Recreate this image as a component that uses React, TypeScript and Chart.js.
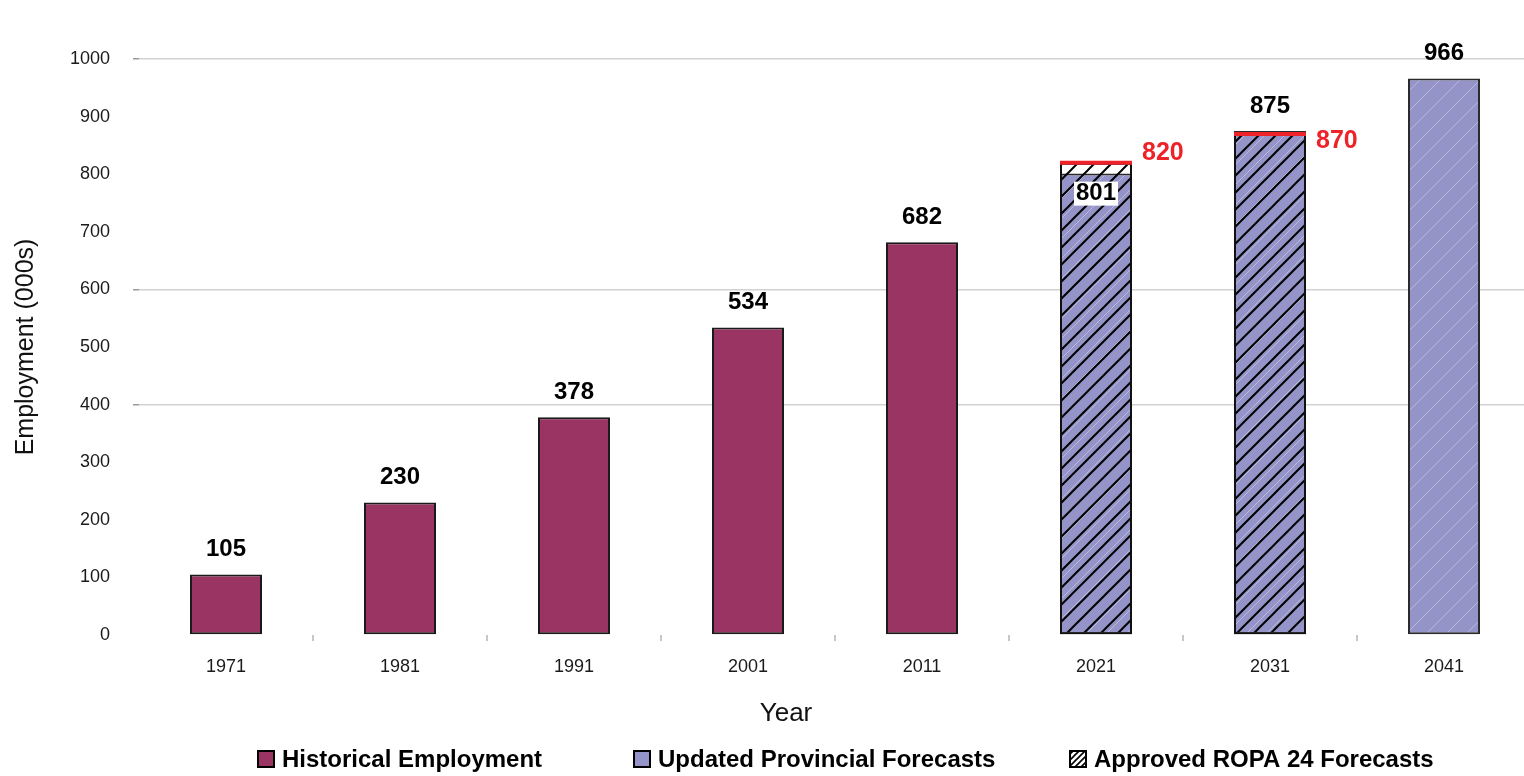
import React, { useEffect, useRef } from "react";
import { Chart, registerables } from "chart.js";

Chart.register(...registerables);

const FONT = "'Liberation Sans', Arial, Helvetica, sans-serif";

const years = ["1971", "1981", "1991", "2001", "2011", "2021", "2031", "2041"];
const historical = [105, 230, 378, 534, 682, null, null, null];
const provincial = [null, null, null, null, null, 801, 875, 966];
const ropa = [null, null, null, null, null, 820, 870, null];
const yMin = 0;
const yMax = 1000;
const yStep = 100;
const visibleGridValues = [400, 600, 1000];
const legendLabels = [
  "Historical Employment",
  "Updated Provincial Forecasts",
  "Approved ROPA 24 Forecasts",
];
const xTitle = "Year";
const yTitle = "Employment (000s)";

const HIST_COLOR = "#993463";
const PROV_COLOR = "#9494C8";
const RED = "#EE2229";

function makeHatch(bg: string | null, line: string, lw: number, s: number): CanvasPattern | string {
  const c = document.createElement("canvas");
  c.width = s;
  c.height = s;
  const g = c.getContext("2d");
  if (!g) return bg || "transparent";
  if (bg) {
    g.fillStyle = bg;
    g.fillRect(0, 0, s, s);
  }
  g.strokeStyle = line;
  g.lineWidth = lw;
  g.beginPath();
  g.moveTo(0, s);
  g.lineTo(s, 0);
  g.moveTo(-s / 4, s / 4);
  g.lineTo(s / 4, -s / 4);
  g.moveTo((s * 3) / 4, (s * 5) / 4);
  g.lineTo((s * 5) / 4, (s * 3) / 4);
  g.stroke();
  const p = g.createPattern(c, "repeat");
  return p || bg || "transparent";
}

export default function App() {
  const ref = useRef<HTMLCanvasElement | null>(null);

  useEffect(() => {
    if (!ref.current) return;
    const blackHatch = makeHatch(null, "#000", 2, 17);
    const provPattern = makeHatch(PROV_COLOR, "rgba(255,255,255,0.35)", 1, 20);
    const legendHatch = makeHatch("#fff", "#000", 1.6, 6);

    const labelPlugin = {
      id: "valueLabels",
      afterDatasetsDraw(chart: any) {
        const ctx = chart.ctx as CanvasRenderingContext2D;
        const mHist = chart.getDatasetMeta(0);
        const mProv = chart.getDatasetMeta(1);
        const mRopa = chart.getDatasetMeta(2);
        ctx.save();
        ctx.font = `bold 24px ${FONT}`;
        ctx.textAlign = "center";
        ctx.textBaseline = "middle";
        ctx.fillStyle = "#000";
        mHist.data.forEach((el: any, i: number) => {
          const v = historical[i];
          if (v == null) return;
          ctx.fillText(String(v), el.x, el.y - 25);
        });
        mRopa.data.forEach((el: any, i: number) => {
          const r = ropa[i];
          if (r == null) return;
          const half = el.width / 2;
          ctx.strokeStyle = RED;
          ctx.lineWidth = 4;
          ctx.beginPath();
          ctx.moveTo(el.x - half, el.y);
          ctx.lineTo(el.x + half, el.y);
          ctx.stroke();
        });
        mProv.data.forEach((el: any, i: number) => {
          const v = provincial[i];
          if (v == null) return;
          const r = ropa[i];
          const txt = String(v);
          if (r != null && r > v) {
            const w = ctx.measureText(txt).width;
            ctx.fillStyle = "#fff";
            ctx.fillRect(el.x - w / 2 - 2, el.y + 8, w + 4, 24);
            ctx.fillStyle = "#000";
            ctx.fillText(txt, el.x, el.y + 20);
          } else {
            ctx.fillStyle = "#000";
            ctx.fillText(txt, el.x, el.y - 25);
          }
        });
        ctx.font = `bold 25px ${FONT}`;
        mRopa.data.forEach((el: any, i: number) => {
          const r = ropa[i];
          if (r == null) return;
          const half = el.width / 2;
          const p = provincial[i];
          const dy = p != null && r > p ? -10 : 7;
          ctx.fillStyle = RED;
          ctx.textAlign = "left";
          ctx.fillText(String(r), el.x + half + 10, el.y + dy);
        });
        ctx.restore();
      },
      afterDraw(chart: any) {
        const ctx = chart.ctx as CanvasRenderingContext2D;
        ctx.save();
        ctx.font = `26px ${FONT}`;
        ctx.fillStyle = "#111";
        ctx.textAlign = "center";
        ctx.textBaseline = "middle";
        ctx.fillText(xTitle, 786, 714);
        const boxX = [258, 634, 1070];
        const fills: any[] = [HIST_COLOR, PROV_COLOR, legendHatch];
        ctx.font = `bold 24px ${FONT}`;
        ctx.textAlign = "left";
        legendLabels.forEach((lab, i) => {
          const x = boxX[i];
          const y = 751;
          ctx.fillStyle = fills[i];
          ctx.fillRect(x, y, 16, 16);
          ctx.strokeStyle = "#000";
          ctx.lineWidth = 2;
          ctx.strokeRect(x, y, 16, 16);
          ctx.fillStyle = "#000";
          ctx.fillText(lab, x + 24, y + 9);
        });
        ctx.restore();
      },
    };

    const chart = new Chart(ref.current, {
      type: "bar",
      data: {
        labels: years,
        datasets: [
          {
            label: legendLabels[0],
            data: historical as any,
            backgroundColor: HIST_COLOR,
            borderColor: "#1a1a1a",
            borderWidth: 2,
            borderSkipped: false,
            order: 2,
          },
          {
            label: legendLabels[1],
            data: provincial as any,
            backgroundColor: provPattern as any,
            borderColor: "#2a2a2a",
            borderWidth: 2,
            borderSkipped: false,
            order: 1,
          },
          {
            label: legendLabels[2],
            data: ropa as any,
            backgroundColor: blackHatch as any,
            borderColor: "#111",
            borderWidth: 2,
            borderSkipped: false,
            order: 0,
          },
        ],
      },
      options: {
        responsive: false,
        animation: false,
        devicePixelRatio: 1,
        layout: { padding: { top: 59, bottom: 46, left: 0, right: 1 } },
        datasets: {
          bar: { grouped: false, categoryPercentage: 1, barPercentage: 0.414 } as any,
        },
        plugins: {
          legend: { display: false },
          tooltip: { enabled: false },
        },
        scales: {
          x: {
            offset: true,
            grid: {
              offset: true,
              drawOnChartArea: false,
              tickLength: 6,
              lineWidth: 2,
              color: (c: any) => (c.index === 0 ? "rgba(0,0,0,0)" : "#c8c8c8"),
            },
            border: { display: false },
            ticks: { font: { size: 18, family: FONT }, color: "#1a1a1a", padding: 15 },
            afterFit: (s: any) => {
              s.height = 95;
            },
          },
          y: {
            min: yMin,
            max: yMax,
            ticks: {
              stepSize: yStep,
              font: { size: 18, family: FONT },
              color: "#1a1a1a",
              padding: 23,
              callback: (v: any) => String(v),
            },
            grid: {
              tickLength: 6,
              lineWidth: 1.5,
              color: (c: any) =>
                c.tick && visibleGridValues.includes(c.tick.value) ? "#d2d2d2" : "rgba(0,0,0,0)",
              tickColor: (c: any) =>
                c.tick && visibleGridValues.includes(c.tick.value) ? "#9a9a9a" : "rgba(0,0,0,0)",
            },
            border: { display: false },
            title: {
              display: true,
              text: yTitle,
              font: { size: 25, family: FONT },
              color: "#111",
              padding: { top: 11, bottom: 0 },
            },
            afterFit: (s: any) => {
              s.width = 139;
            },
          },
        },
      },
      plugins: [labelPlugin],
    });
    return () => chart.destroy();
  }, []);

  return (
    <div
      style={{
        position: "fixed",
        left: 0,
        top: 0,
        width: 1524,
        height: 776,
        overflow: "hidden",
        background: "#fff",
      }}
    >
      <canvas ref={ref} width={1532} height={776} style={{ display: "block" }} />
    </div>
  );
}
